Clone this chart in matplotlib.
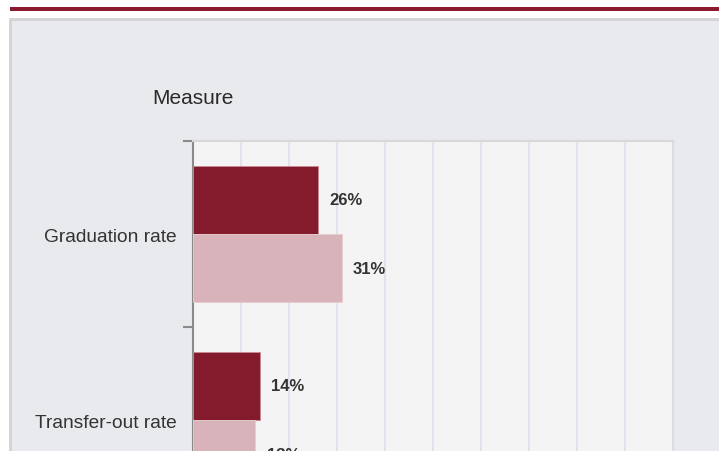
import matplotlib.pyplot as plt
from matplotlib.patches import Rectangle

# data
categories = ["Graduation rate", "Transfer-out rate"]
series_a = [26, 14]
series_b = [31, 13]
x_ticks = [0, 10, 20, 30, 40, 50, 60, 70, 80, 90, 100]

W, H = 719, 452
fig = plt.figure(figsize=(W / 100, H / 100), dpi=100)
fig.patch.set_facecolor("white")
plt.rcParams["font.family"] = ["Liberation Sans", "DejaVu Sans"]


def px_rect(x0, y0, x1, y1, **kw):
    # rectangle given in pixel coords, origin top-left
    r = Rectangle((x0 / W, 1 - y1 / H), (x1 - x0) / W, (y1 - y0) / H,
                  transform=fig.transFigure, zorder=-5, **kw)
    fig.patches.append(r)


# dark red rule at the top and the grey panel
px_rect(10, 8, 722, 12, facecolor="#8b1a2e", edgecolor="none")
px_rect(10, 20, 730, 470, facecolor="#e9eaee", edgecolor="#d3d3d3", linewidth=2)

# plot area (runs off the bottom of the picture)
left, right, top = 193, 673, 142
band = 186
bottom = top + band * len(categories)
ax = fig.add_axes([left / W, 1 - bottom / H, (right - left) / W, (bottom - top) / H])
ax.set_facecolor("#f4f4f4")

bh = 0.368
ys = list(range(len(categories)))
ax.barh([y - bh / 2 for y in ys], series_a, height=bh, color="#841b2d",
        edgecolor="#c98a95", linewidth=0.6, zorder=3)
ax.barh([y + bh / 2 for y in ys], series_b, height=bh, color="#d8b3b9",
        edgecolor="#e6cdd1", linewidth=0.6, zorder=3)

for y, a, b in zip(ys, series_a, series_b):
    ax.annotate(f"{a}%", (a, y - bh / 2), xytext=(8, 0), textcoords="offset points",
                va="center", ha="left", fontsize=12, fontweight="bold", color="#333333",
                annotation_clip=False)
    ax.annotate(f"{b}%", (b, y + bh / 2), xytext=(8, 0), textcoords="offset points",
                va="center", ha="left", fontsize=12, fontweight="bold", color="#333333",
                annotation_clip=False)

ax.set_xlim(0, 100)
ax.set_ylim(len(categories) - 0.5, -0.5)
ax.set_xticks(x_ticks)
ax.xaxis.grid(True, color="#e0e3ec", linewidth=1.5, zorder=1)
ax.tick_params(axis="x", length=0, labelbottom=False)

ax.set_yticks(ys)
ax.set_yticklabels(categories, fontsize=13.8, color="#333333")
ax.set_yticks([y - 0.5 for y in ys] + [len(categories) - 0.5], minor=True)
ax.tick_params(axis="y", which="major", length=0, pad=12)
ax.tick_params(axis="y", which="minor", length=7, width=1.5, color="#8a8a8a")

ax.spines["left"].set_color("#8a8a8a")
ax.spines["left"].set_linewidth(1.5)
ax.spines["top"].set_color("#d8d8d8")
ax.spines["top"].set_linewidth(1.5)
ax.spines["right"].set_color("#dcdde3")
ax.spines["right"].set_linewidth(1.5)
ax.spines["bottom"].set_visible(False)

fig.text(152 / W, 1 - 99 / H, "Measure", fontsize=15, color="#2a2a2a",
         ha="left", va="center")

fig.savefig("out.png", dpi=100)
